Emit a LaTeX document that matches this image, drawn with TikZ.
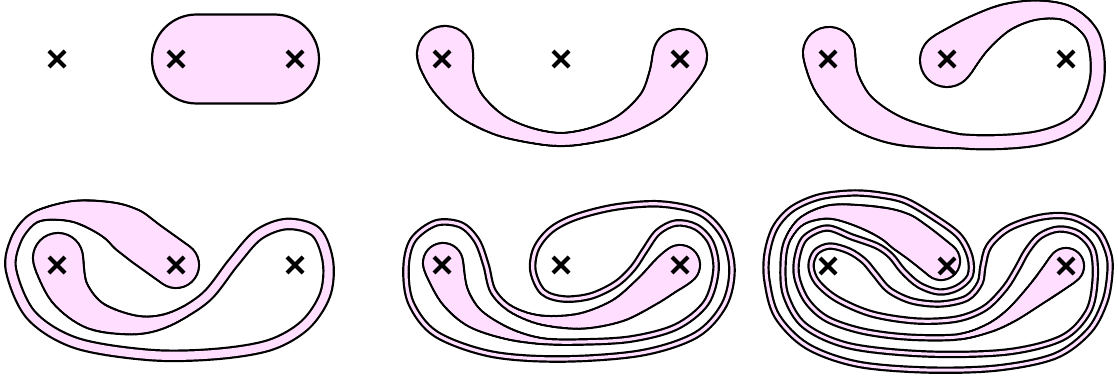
\documentclass[tikz,border=0pt]{standalone}
\usetikzlibrary{shapes.misc}
\definecolor{bandpink}{RGB}{255,222,255}
\tikzset{
  punct/.style={draw=black, cross out, line width=4pt, minimum size=16pt, inner sep=0pt, outer sep=0pt},
  outline/.style={draw=black, line width=2.2pt, fill=bandpink},
}
\makeatletter
% reverse a list of coordinates (a,b) (c,d) ...
\def\revcoords#1#2{\def\rv@acc{}\rv@loop#1(\rv@end)\rv@stop\let#2\rv@acc}
\def\rv@loop#1(#2)#3\rv@stop{%
  \def\rv@tmp{#2}%
  \ifx\rv@tmp\rv@endmark
    \expandafter\@gobble
  \else
    \edef\rv@acc{(#2) \rv@acc}%
    \expandafter\@firstofone
  \fi
  {\rv@loop#3\rv@stop}}
\def\rv@endmark{\rv@end}
\makeatother
\def\tN{36}
\def\toff{1.1}
% whole stroke of the tube: #1 colour, #2 offset, #3 coords
\newcommand\tubecore[3]{%
  \pgfmathsetmacro\tlw{2*(\tW+(#2))}%
  \draw[#1, line width=\tlw pt, line cap=round, line join=round] plot[smooth, tension=0.55] coordinates {#3};}
% tapered start of the tube: #1 colour, #2 offset, #3 R, #4 a, #5 b, #6 p, #7 coords
\newcommand\tubetaper[7]{%
  \foreach \k in {0,...,\tN}{%
    \pgfmathsetmacro\ts{#4+(#5-#4)*\k/\tN}%
    \pgfmathsetmacro\tse{max(#4,\ts-0.5*(#5-#4)/\tN)}%
    \pgfmathsetmacro\tu{max(0.02,1-(\tse-#4)/(#5-#4))}%
    \pgfmathsetmacro\twid{2*(\tW+(#3-\tW)*exp(#6*ln(\tu))+(#2))}%
    \pgfmathsetmacro\tdash{max(0.05,\ts)}%
    \draw[#1, line width=\twid pt, line cap=round, line join=round, dash pattern=on \tdash pt off 16000pt]
      plot[smooth, tension=0.55] coordinates {#7};
  }}
\newcommand\tubeend[3]{\tubetaper{#2}{#3}{\tRb}{\tAb}{\tBb}{\tPb}{#1}}
\newcommand\tube[1]{%
  \revcoords{#1}\trev
  \tubecore{black}{\toff}{#1}%
  \tubetaper{black}{\toff}{\tRa}{\tAa}{\tBa}{\tPa}{#1}%
  \expandafter\tubeend\expandafter{\trev}{black}{\toff}%
  \tubecore{bandpink}{-\toff}{#1}%
  \tubetaper{bandpink}{-\toff}{\tRa}{\tAa}{\tBa}{\tPa}{#1}%
  \expandafter\tubeend\expandafter{\trev}{bandpink}{-\toff}%
}
\newcommand\crosses[1]{%
  \node[punct] (#1a) at (-119,0) {};
  \node[punct] (#1b) at (0,0) {};
  \node[punct] (#1c) at (119,0) {};
}
\begin{document}
\begin{tikzpicture}[x=1pt,y=-1pt]
\path[use as bounding box] (0,0) rectangle (1118,385);

% ---------- panel 1
\begin{scope}[shift={(176,59)}]
  \draw[outline, rounded corners=44.5pt] (-24,-44.5) rectangle (143,44.5);
  \crosses{p}
\end{scope}

% ---------- panel 2
\begin{scope}[shift={(561,59)}]
  \def\tW{6.5}\def\tRa{28}\def\tAa{0}\def\tBa{150}\def\tPa{1.8}
  \def\tRb{27}\def\tAb{0}\def\tBb{150}\def\tPb{1.8}
  \tube{(-116,-5) (-110,18) (-92,45) (-55,69) (0,80.5) (55,69) (92,45) (110,18) (119,-3)}
  \crosses{q}
\end{scope}

% ---------- panel 3
\begin{scope}[shift={(947,59)}]
  \def\tW{7}\def\tRa{26}\def\tAa{0}\def\tBa{170}\def\tPa{1.0}
  \def\tRb{27}\def\tAb{0}\def\tBb{160}\def\tPb{2.0}
  \tube{(-118,-6) (-111,22) (-88,52) (-45,73) (25,83) (92,79) (133,60) (150,20) (146,-22) (122,-45) (90,-49) (57,-41) (26,-22) (0,1)}
  \crosses{r}
\end{scope}

% ---------- panel 4
\begin{scope}[shift={(176,265)}]
  \def\tW{5.2}\def\tRa{25}\def\tAa{0}\def\tBa{165}\def\tPa{1.4}
  \def\tRb{23}\def\tAb{55}\def\tBb{155}\def\tPb{1.3}
  \tube{(-118,-7) (-108,25) (-82,50) (-40,60) (-6,54) (30,32) (57,-2) (82,-30) (111,-41) (140,-33) (152,-3) (149,30) (129,60) (94,80) (40,89) (-26,90) (-100,78) (-145,50) (-165,5) (-160,-25) (-145,-45) (-126,-52) (-96,-53) (-59,-42) (-28,-20) (0,0)}
  \crosses{s}
\end{scope}

% ---------- panel 5
\begin{scope}[shift={(561,265)}]
  \def\tW{2.7}\def\tRa{20}\def\tAa{0}\def\tBa{140}\def\tPa{1.4}
  \def\tRb{20}\def\tAb{5}\def\tBb{190}\def\tPb{1.4}
  \tube{(-118,-2) (-108,28) (-88,52) (-55,68) (-20,76) (20,77) (70,74) (115,62) (145,38) (155,5) (150,-22) (135,-38) (115,-42) (97,-33) (84,-15) (72,3) (55,19) (30,31) (3,34) (-18,27) (-28,6) (-25,-16) (-10,-35) (15,-48) (55,-58) (100,-61) (140,-52) (163,-28) (171,5) (163,40) (135,70) (80,88) (0,94) (-70,89) (-125,69) (-150,38) (-155,3) (-148,-25) (-125,-42) (-100,-40) (-84,-24) (-75,0) (-68,26) (-50,44) (-20,55) (20,56) (58,45) (88,25) (106,10) (119,0)}
  \crosses{t}
\end{scope}

% ---------- panel 6
\begin{scope}[shift={(947,266)}]
  \def\tW{2.6}\def\tRa{19}\def\tAa{45}\def\tBa{175}\def\tPa{1.5}
  \def\tRb{18}\def\tAb{0}\def\tBb{130}\def\tPb{1.6}
  \tube{(-6,-5) (-30,-24) (-55,-40) (-87,-50) (-118,-54) (-145,-45) (-160,-25) (-164,0) (-161,30) (-142,60) (-97,80) (-20,88) (60,86) (115,72) (141,46) (148,15) (146,-15) (132,-32) (112,-37) (93,-30) (80,-15) (70,3) (58,22) (38,42) (10,53) (-30,55) (-75,48) (-110,33) (-130,16) (-136,0) (-131,-14) (-117,-20) (-98,-15) (-83,-5) (-72,8) (-58,24) (-35,35) (-6,38) (20,32) (33,17) (36,0) (42,-20) (62,-38) (95,-49) (125,-49) (150,-35) (161,-14) (163,5) (158,35) (142,65) (108,90) (50,102) (-20,104) (-90,98) (-140,80) (-170,50) (-180,15) (-180,-12) (-172,-38) (-155,-57) (-128,-69) (-95,-73) (-67,-71) (-41,-65) (-12,-48) (12,-30) (23,-9) (23,10) (10,22) (-8,26) (-28,19) (-44,5) (-56,-10) (-70,-20) (-95,-29) (-120,-38) (-142,-28) (-150,-8) (-150,12) (-140,35) (-120,53) (-85,65) (-40,71) (10,71) (42,62) (66,48) (93,25) (110,9) (119,0)}
  \crosses{u}
\end{scope}
\end{tikzpicture}
\end{document}
